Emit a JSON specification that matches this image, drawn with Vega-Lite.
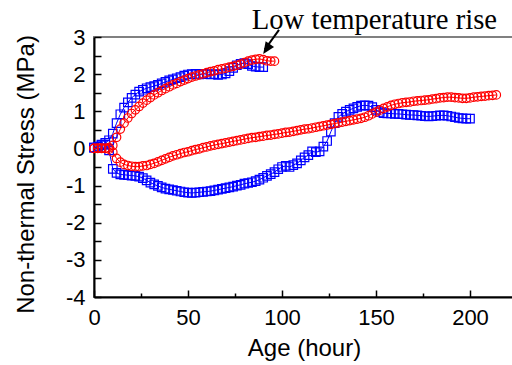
{
  "$schema": "https://vega.github.io/schema/vega-lite/v6.json",
  "width": 420,
  "height": 260,
  "autosize": {"type": "none"},
  "padding": {"left": 94, "top": 37, "right": 0, "bottom": 68},
  "background": "white",
  "config": {
    "view": {"stroke": "#808080", "strokeWidth": 2},
    "axis": {"domainColor": "black", "domainWidth": 2, "tickColor": "black", "tickWidth": 1.5, "labelColor": "black", "titleColor": "black", "labelFont": "Liberation Sans", "titleFont": "Liberation Sans", "labelFontSize": 22, "titleFontSize": 24, "titleFontWeight": "normal", "grid": false, "labelFlush": false}
  },
  "data": {"values": [
    {"s":"b1","x":0,"y":0.02},{"s":"b1","x":2,"y":0.05},{"s":"b1","x":4,"y":0.1},{"s":"b1","x":6,"y":0.15},{"s":"b1","x":8,"y":0.22},{"s":"b1","x":10,"y":0.4},{"s":"b1","x":12,"y":0.68},{"s":"b1","x":14,"y":0.92},{"s":"b1","x":16,"y":1.1},{"s":"b1","x":18,"y":1.24},{"s":"b1","x":20,"y":1.36},{"s":"b1","x":22,"y":1.45},{"s":"b1","x":24,"y":1.53},{"s":"b1","x":26,"y":1.58},{"s":"b1","x":28,"y":1.62},{"s":"b1","x":30,"y":1.65},{"s":"b1","x":32,"y":1.68},{"s":"b1","x":34,"y":1.71},{"s":"b1","x":36,"y":1.75},{"s":"b1","x":38,"y":1.79},{"s":"b1","x":40,"y":1.83},{"s":"b1","x":42,"y":1.86},{"s":"b1","x":44,"y":1.89},{"s":"b1","x":46,"y":1.92},{"s":"b1","x":48,"y":1.96},{"s":"b1","x":50,"y":1.99},{"s":"b1","x":52,"y":2.0},{"s":"b1","x":54,"y":2.01},{"s":"b1","x":56,"y":1.99},{"s":"b1","x":58,"y":2.01},{"s":"b1","x":60,"y":2.0},{"s":"b1","x":62,"y":1.99},{"s":"b1","x":64,"y":2.0},{"s":"b1","x":66,"y":1.98},{"s":"b1","x":68,"y":1.99},{"s":"b1","x":70,"y":2.02},{"s":"b1","x":72,"y":2.08},{"s":"b1","x":74,"y":2.17},{"s":"b1","x":76,"y":2.24},{"s":"b1","x":78,"y":2.28},{"s":"b1","x":80,"y":2.3},{"s":"b1","x":82,"y":2.27},{"s":"b1","x":84,"y":2.22},{"s":"b1","x":86,"y":2.2},{"s":"b1","x":88,"y":2.19},{"s":"b1","x":90,"y":2.19},
    {"s":"b2","x":0,"y":0.02},{"s":"b2","x":2,"y":0.04},{"s":"b2","x":4,"y":0.08},{"s":"b2","x":6,"y":0.1},{"s":"b2","x":8,"y":-0.05},{"s":"b2","x":10,"y":-0.55},{"s":"b2","x":12,"y":-0.66},{"s":"b2","x":14,"y":-0.7},{"s":"b2","x":16,"y":-0.71},{"s":"b2","x":18,"y":-0.72},{"s":"b2","x":20,"y":-0.73},{"s":"b2","x":22,"y":-0.74},{"s":"b2","x":24,"y":-0.76},{"s":"b2","x":26,"y":-0.8},{"s":"b2","x":28,"y":-0.86},{"s":"b2","x":30,"y":-0.92},{"s":"b2","x":32,"y":-0.97},{"s":"b2","x":34,"y":-1.01},{"s":"b2","x":36,"y":-1.05},{"s":"b2","x":38,"y":-1.08},{"s":"b2","x":40,"y":-1.1},{"s":"b2","x":42,"y":-1.12},{"s":"b2","x":44,"y":-1.14},{"s":"b2","x":46,"y":-1.16},{"s":"b2","x":48,"y":-1.18},{"s":"b2","x":50,"y":-1.19},{"s":"b2","x":52,"y":-1.2},{"s":"b2","x":54,"y":-1.19},{"s":"b2","x":56,"y":-1.18},{"s":"b2","x":58,"y":-1.17},{"s":"b2","x":60,"y":-1.16},{"s":"b2","x":62,"y":-1.15},{"s":"b2","x":64,"y":-1.13},{"s":"b2","x":66,"y":-1.11},{"s":"b2","x":68,"y":-1.09},{"s":"b2","x":70,"y":-1.07},{"s":"b2","x":72,"y":-1.05},{"s":"b2","x":74,"y":-1.03},{"s":"b2","x":76,"y":-1.0},{"s":"b2","x":78,"y":-0.98},{"s":"b2","x":80,"y":-0.95},{"s":"b2","x":82,"y":-0.93},{"s":"b2","x":84,"y":-0.91},{"s":"b2","x":86,"y":-0.88},{"s":"b2","x":88,"y":-0.84},{"s":"b2","x":90,"y":-0.79},{"s":"b2","x":92,"y":-0.74},{"s":"b2","x":94,"y":-0.69},{"s":"b2","x":96,"y":-0.64},{"s":"b2","x":98,"y":-0.56},{"s":"b2","x":100,"y":-0.5},{"s":"b2","x":102,"y":-0.47},{"s":"b2","x":104,"y":-0.5},{"s":"b2","x":106,"y":-0.45},{"s":"b2","x":108,"y":-0.4},{"s":"b2","x":110,"y":-0.32},{"s":"b2","x":112,"y":-0.24},{"s":"b2","x":114,"y":-0.18},{"s":"b2","x":116,"y":-0.08},{"s":"b2","x":118,"y":-0.1},{"s":"b2","x":120,"y":-0.08},{"s":"b2","x":122,"y":0.05},{"s":"b2","x":124,"y":0.2},{"s":"b2","x":126,"y":0.45},{"s":"b2","x":128,"y":0.68},{"s":"b2","x":130,"y":0.85},{"s":"b2","x":132,"y":0.93},{"s":"b2","x":134,"y":0.99},{"s":"b2","x":136,"y":1.04},{"s":"b2","x":138,"y":1.08},{"s":"b2","x":140,"y":1.12},{"s":"b2","x":142,"y":1.15},{"s":"b2","x":144,"y":1.16},{"s":"b2","x":146,"y":1.15},{"s":"b2","x":148,"y":1.11},{"s":"b2","x":150,"y":1.04},{"s":"b2","x":152,"y":0.98},{"s":"b2","x":154,"y":0.95},{"s":"b2","x":156,"y":0.94},{"s":"b2","x":158,"y":0.94},{"s":"b2","x":160,"y":0.93},{"s":"b2","x":162,"y":0.93},{"s":"b2","x":164,"y":0.92},{"s":"b2","x":166,"y":0.91},{"s":"b2","x":168,"y":0.9},{"s":"b2","x":170,"y":0.9},{"s":"b2","x":172,"y":0.89},{"s":"b2","x":174,"y":0.88},{"s":"b2","x":176,"y":0.87},{"s":"b2","x":178,"y":0.86},{"s":"b2","x":180,"y":0.87},{"s":"b2","x":182,"y":0.88},{"s":"b2","x":184,"y":0.89},{"s":"b2","x":186,"y":0.89},{"s":"b2","x":188,"y":0.88},{"s":"b2","x":190,"y":0.86},{"s":"b2","x":192,"y":0.84},{"s":"b2","x":194,"y":0.82},{"s":"b2","x":196,"y":0.81},{"s":"b2","x":198,"y":0.8},{"s":"b2","x":200,"y":0.8},
    {"s":"r1","x":0,"y":0.0},{"s":"r1","x":2,"y":0.0},{"s":"r1","x":4,"y":0.01},{"s":"r1","x":6,"y":0.0},{"s":"r1","x":8,"y":0.02},{"s":"r1","x":10,"y":0.08},{"s":"r1","x":12,"y":0.3},{"s":"r1","x":14,"y":0.52},{"s":"r1","x":16,"y":0.68},{"s":"r1","x":18,"y":0.82},{"s":"r1","x":20,"y":0.94},{"s":"r1","x":22,"y":1.04},{"s":"r1","x":24,"y":1.13},{"s":"r1","x":26,"y":1.22},{"s":"r1","x":28,"y":1.3},{"s":"r1","x":30,"y":1.37},{"s":"r1","x":32,"y":1.44},{"s":"r1","x":34,"y":1.5},{"s":"r1","x":36,"y":1.56},{"s":"r1","x":38,"y":1.61},{"s":"r1","x":40,"y":1.66},{"s":"r1","x":42,"y":1.71},{"s":"r1","x":44,"y":1.75},{"s":"r1","x":46,"y":1.8},{"s":"r1","x":48,"y":1.84},{"s":"r1","x":50,"y":1.88},{"s":"r1","x":52,"y":1.92},{"s":"r1","x":54,"y":1.95},{"s":"r1","x":56,"y":1.98},{"s":"r1","x":58,"y":2.01},{"s":"r1","x":60,"y":2.04},{"s":"r1","x":62,"y":2.07},{"s":"r1","x":64,"y":2.09},{"s":"r1","x":66,"y":2.12},{"s":"r1","x":68,"y":2.14},{"s":"r1","x":70,"y":2.16},{"s":"r1","x":72,"y":2.19},{"s":"r1","x":74,"y":2.21},{"s":"r1","x":76,"y":2.24},{"s":"r1","x":78,"y":2.27},{"s":"r1","x":80,"y":2.31},{"s":"r1","x":82,"y":2.35},{"s":"r1","x":84,"y":2.38},{"s":"r1","x":86,"y":2.4},{"s":"r1","x":88,"y":2.41},{"s":"r1","x":90,"y":2.39},{"s":"r1","x":92,"y":2.36},{"s":"r1","x":94,"y":2.35},{"s":"r1","x":96,"y":2.35},
    {"s":"r2","x":0,"y":0.0},{"s":"r2","x":2,"y":0.01},{"s":"r2","x":4,"y":0.0},{"s":"r2","x":6,"y":0.0},{"s":"r2","x":8,"y":-0.02},{"s":"r2","x":10,"y":-0.1},{"s":"r2","x":12,"y":-0.27},{"s":"r2","x":14,"y":-0.37},{"s":"r2","x":16,"y":-0.43},{"s":"r2","x":18,"y":-0.46},{"s":"r2","x":20,"y":-0.48},{"s":"r2","x":22,"y":-0.49},{"s":"r2","x":24,"y":-0.49},{"s":"r2","x":26,"y":-0.47},{"s":"r2","x":28,"y":-0.46},{"s":"r2","x":30,"y":-0.43},{"s":"r2","x":32,"y":-0.4},{"s":"r2","x":34,"y":-0.36},{"s":"r2","x":36,"y":-0.32},{"s":"r2","x":38,"y":-0.28},{"s":"r2","x":40,"y":-0.24},{"s":"r2","x":42,"y":-0.2},{"s":"r2","x":44,"y":-0.17},{"s":"r2","x":46,"y":-0.14},{"s":"r2","x":48,"y":-0.11},{"s":"r2","x":50,"y":-0.09},{"s":"r2","x":52,"y":-0.06},{"s":"r2","x":54,"y":-0.03},{"s":"r2","x":56,"y":-0.01},{"s":"r2","x":58,"y":0.02},{"s":"r2","x":60,"y":0.04},{"s":"r2","x":62,"y":0.07},{"s":"r2","x":64,"y":0.09},{"s":"r2","x":66,"y":0.11},{"s":"r2","x":68,"y":0.13},{"s":"r2","x":70,"y":0.15},{"s":"r2","x":72,"y":0.17},{"s":"r2","x":74,"y":0.19},{"s":"r2","x":76,"y":0.21},{"s":"r2","x":78,"y":0.23},{"s":"r2","x":80,"y":0.25},{"s":"r2","x":82,"y":0.27},{"s":"r2","x":84,"y":0.29},{"s":"r2","x":86,"y":0.3},{"s":"r2","x":88,"y":0.32},{"s":"r2","x":90,"y":0.33},{"s":"r2","x":92,"y":0.35},{"s":"r2","x":94,"y":0.36},{"s":"r2","x":96,"y":0.38},{"s":"r2","x":98,"y":0.39},{"s":"r2","x":100,"y":0.41},{"s":"r2","x":102,"y":0.43},{"s":"r2","x":104,"y":0.44},{"s":"r2","x":106,"y":0.46},{"s":"r2","x":108,"y":0.48},{"s":"r2","x":110,"y":0.5},{"s":"r2","x":112,"y":0.52},{"s":"r2","x":114,"y":0.53},{"s":"r2","x":116,"y":0.55},{"s":"r2","x":118,"y":0.57},{"s":"r2","x":120,"y":0.59},{"s":"r2","x":122,"y":0.61},{"s":"r2","x":124,"y":0.63},{"s":"r2","x":126,"y":0.65},{"s":"r2","x":128,"y":0.67},{"s":"r2","x":130,"y":0.69},{"s":"r2","x":132,"y":0.71},{"s":"r2","x":134,"y":0.73},{"s":"r2","x":136,"y":0.75},{"s":"r2","x":138,"y":0.77},{"s":"r2","x":140,"y":0.79},{"s":"r2","x":142,"y":0.81},{"s":"r2","x":144,"y":0.84},{"s":"r2","x":146,"y":0.88},{"s":"r2","x":148,"y":0.93},{"s":"r2","x":150,"y":0.98},{"s":"r2","x":152,"y":1.03},{"s":"r2","x":154,"y":1.08},{"s":"r2","x":156,"y":1.12},{"s":"r2","x":158,"y":1.16},{"s":"r2","x":160,"y":1.19},{"s":"r2","x":162,"y":1.21},{"s":"r2","x":164,"y":1.23},{"s":"r2","x":166,"y":1.24},{"s":"r2","x":168,"y":1.25},{"s":"r2","x":170,"y":1.27},{"s":"r2","x":172,"y":1.28},{"s":"r2","x":174,"y":1.29},{"s":"r2","x":176,"y":1.3},{"s":"r2","x":178,"y":1.31},{"s":"r2","x":180,"y":1.33},{"s":"r2","x":182,"y":1.34},{"s":"r2","x":184,"y":1.36},{"s":"r2","x":186,"y":1.37},{"s":"r2","x":188,"y":1.38},{"s":"r2","x":190,"y":1.38},{"s":"r2","x":192,"y":1.37},{"s":"r2","x":194,"y":1.36},{"s":"r2","x":196,"y":1.35},{"s":"r2","x":198,"y":1.35},{"s":"r2","x":200,"y":1.36},{"s":"r2","x":202,"y":1.38},{"s":"r2","x":204,"y":1.39},{"s":"r2","x":206,"y":1.4},{"s":"r2","x":208,"y":1.41},{"s":"r2","x":210,"y":1.42},{"s":"r2","x":212,"y":1.43},{"s":"r2","x":214,"y":1.44}
  ]},
  "resolve": {"axis": {"x": "independent", "y": "independent"}},
  "layer": [
    {
      "mark": {"type": "line", "strokeWidth": 1},
      "encoding": {
        "x": {"field": "x", "type": "quantitative", "scale": {"domain": [0, 223.4], "nice": false, "zero": false},
          "axis": {"orient": "bottom", "values": [0, 50, 100, 150, 200], "tickSize": -7, "labelPadding": 34, "labelBaseline": "alphabetic", "title": "Age (hour)", "titleBaseline": "alphabetic", "titleY": 58}},
        "y": {"field": "y", "type": "quantitative", "scale": {"domain": [-4, 3], "nice": false, "zero": false},
          "axis": {"orient": "left", "values": [-4, -3.5, -3, -2.5, -2, -1.5, -1, -0.5, 0, 0.5, 1, 1.5, 2, 2.5, 3], "labelExpr": "datum.value % 1 === 0 ? '' + datum.value : ''", "tickSize": -7, "labelPadding": 16, "title": "Non-thermal Stress (MPa)", "titleBaseline": "alphabetic", "titleX": -61, "titleY": 137}},
        "color": {"field": "s", "type": "nominal", "scale": {"domain": ["b1", "b2", "r1", "r2"], "range": ["#0000ff", "#0000ff", "#ff0000", "#ff0000"]}, "legend": null},
        "detail": {"field": "s"}
      }
    },
    {
      "mark": {"type": "point", "filled": false, "strokeWidth": 1.2, "opacity": 1},
      "encoding": {
        "x": {"field": "x", "type": "quantitative", "scale": {"domain": [0, 223.4], "nice": false, "zero": false},
          "axis": {"orient": "bottom", "values": [25, 75, 125, 175], "tickSize": -4, "labels": false, "domain": false, "title": null}},
        "y": {"field": "y", "type": "quantitative", "scale": {"domain": [-4, 3], "nice": false, "zero": false}, "axis": null},
        "color": {"field": "s", "type": "nominal", "scale": {"domain": ["b1", "b2", "r1", "r2"], "range": ["#0000ff", "#0000ff", "#ff0000", "#ff0000"]}, "legend": null},
        "shape": {"field": "s", "type": "nominal", "scale": {"domain": ["b1", "b2", "r1", "r2"], "range": ["square", "square", "circle", "circle"]}, "legend": null},
        "size": {"field": "s", "type": "nominal", "scale": {"domain": ["b1", "b2", "r1", "r2"], "range": [72, 72, 64, 64]}, "legend": null}
      }
    },
    {
      "data": {"values": [{"label": "Low temperature rise", "x": 83.9, "y": 3.215}]},
      "mark": {"type": "text", "font": "Liberation Serif", "fontSize": 28.7, "align": "left", "baseline": "alphabetic", "color": "black"},
      "encoding": {
        "x": {"field": "x", "type": "quantitative", "scale": {"domain": [0, 223.4], "nice": false, "zero": false}, "axis": null},
        "y": {"field": "y", "type": "quantitative", "scale": {"domain": [-4, 3], "nice": false, "zero": false}, "axis": null},
        "text": {"field": "label"}
      }
    },
    {
      "data": {"values": [{"x": 98.4, "y": 3.19, "x2": 90.8, "y2": 2.66}]},
      "mark": {"type": "rule", "color": "black", "strokeWidth": 2},
      "encoding": {
        "x": {"field": "x", "type": "quantitative", "scale": {"domain": [0, 223.4], "nice": false, "zero": false}, "axis": null},
        "y": {"field": "y", "type": "quantitative", "scale": {"domain": [-4, 3], "nice": false, "zero": false}, "axis": null},
        "x2": {"field": "x2"},
        "y2": {"field": "y2"}
      }
    },
    {
      "data": {"values": [{"x": 90, "y": 2.54}]},
      "mark": {"type": "point", "shape": "M0,0L-0.42,-1L0.42,-1Z", "filled": true, "color": "black", "size": 576, "angle": 33.7, "opacity": 1},
      "encoding": {
        "x": {"field": "x", "type": "quantitative", "scale": {"domain": [0, 223.4], "nice": false, "zero": false}, "axis": null},
        "y": {"field": "y", "type": "quantitative", "scale": {"domain": [-4, 3], "nice": false, "zero": false}, "axis": null}
      }
    }
  ]
}
